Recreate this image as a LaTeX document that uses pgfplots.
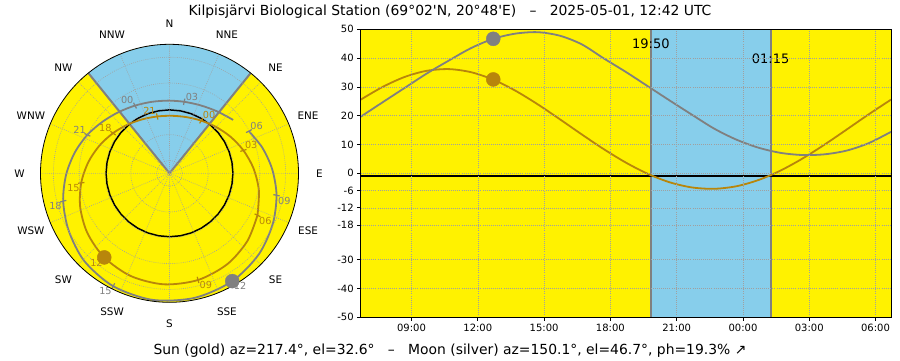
\documentclass[border=0pt]{standalone}
\usepackage{fontspec}
\setmainfont{DejaVu Sans}
\usepackage{pgfplots}
\pgfplotsset{compat=1.18}
\usepgfplotslibrary{polar}
\definecolor{sungold}{HTML}{B8860B}
\definecolor{moongray}{HTML}{808080}
\definecolor{nightblue}{HTML}{87CEEB}
\definecolor{gridgray}{HTML}{A0A0A0}
\newcommand{\tl}{\fontsize{9.7}{11}\selectfont}
\begin{document}
\begin{tikzpicture}[x=1pt,y=1pt]
\useasboundingbox (0,0) rectangle (900,360);
\node[font=\fontsize{13.9}{16}\selectfont, anchor=base] at (450,344.5) {Kilpisjärvi Biological Station (69°02\textquotesingle N, 20°48\textquotesingle E)\ \ \ –\ \ \ 2025-05-01, 12:42 UTC};
\node[font=\fontsize{13.9}{16}\selectfont, anchor=base] at (450,6) {Sun (gold) az=217.4°, el=32.6°\ \ \ –\ \ \ Moon (silver) az=150.1°, el=46.7°, ph=19.3\% ↗};

% ---------------- right: elevation vs time ----------------
\begin{axis}[
  at={(360.7pt,42.7pt)}, anchor=south west,
  scale only axis, width=530.3pt, height=288pt,
  xmin=6.7, xmax=30.7, ymin=-50, ymax=50,
  axis background/.style={fill=yellow},
  axis on top,
  xtick={9,12,15,18,21,24,27,30},
  xticklabels={09:00,12:00,15:00,18:00,21:00,00:00,03:00,06:00},
  ytick={-50,-40,-30,-18,-12,-6,0,10,20,30,40,50},
  yticklabels={-50,-40,-30,-18,-12,-6,0,10,20,30,40,50},
  tick label style={font=\fontsize{10}{12}\selectfont},
  tick align=outside, major tick length=3.5pt,
  xtick pos=left, ytick pos=left,
  grid=major,
  major grid style={gridgray, line width=0.6pt, dash pattern=on 0.8pt off 1.3pt},
  axis line style={black, line width=0.8pt},
  tick style={black, line width=0.8pt},
]
\addplot[draw=none, fill=nightblue] coordinates {(19.8333,-50) (25.25,-50) (25.25,50) (19.8333,50)} -- cycle;
\addplot[moongray, line width=2pt] coordinates {(19.8333,-50) (19.8333,50)};
\addplot[moongray, line width=2pt] coordinates {(25.25,-50) (25.25,50)};
\addplot[black, line width=2pt] coordinates {(6.7,-0.833) (30.7,-0.833)};
% sun elevation
\addplot[sungold, line width=1.8pt, smooth] coordinates {
(6.7,25.58) (7.7,30.02) (8.7,33.49) (9.7,35.61) (10.7,36.18) (11.7,35.10) (12.7,32.51)
(13.7,28.69) (14.7,24.01) (15.7,18.84) (16.7,13.53) (17.7,8.39) (18.7,3.72) (19.7,-0.21)
(20.7,-3.16) (21.7,-4.92) (22.7,-5.38) (23.7,-4.50) (24.7,-2.34) (25.7,0.95) (26.7,5.15)
(27.7,10.00) (28.7,15.23) (29.7,20.53) (30.7,25.58)};
% moon elevation
\addplot[moongray, line width=1.8pt, smooth] coordinates {
(6.7,19.65) (7.7,24.7) (8.7,29.7) (9.7,34.7) (10.7,39.2) (11.7,43.5) (12.7,46.7)
(13.7,48.5) (14.7,49.0) (15.7,47.8) (16.7,44.8) (17.7,39.9) (18.7,35.2) (19.7,30.2)
(20.7,25.2) (21.7,20.3) (22.7,15.5) (23.7,11.7) (24.7,8.9) (25.7,7.1) (26.7,6.35)
(27.7,6.6) (28.7,7.9) (29.7,10.5) (30.7,14.4)};
\addplot[only marks, mark=*, mark size=7pt, mark options={fill=moongray, draw=moongray}] coordinates {(12.7,46.7)};
\addplot[only marks, mark=*, mark size=7pt, mark options={fill=sungold, draw=sungold}] coordinates {(12.7,32.6)};
\node[font=\fontsize{13}{15}\selectfont] at (axis cs:19.8333,44.9) {19:50};
\node[font=\fontsize{13}{15}\selectfont] at (axis cs:25.25,39.9) {01:15};
\end{axis}

% ---------------- left: polar sky map ----------------
\begin{polaraxis}[
  at={(169.5pt,186.7pt)}, anchor=center,
  scale only axis, width=258pt, height=258pt,
  xmin=0, xmax=360, ymin=0, ymax=100,
  axis background/.style={fill=yellow},
  axis on top,
  xtick={0,22.5,...,337.5}, xticklabels={},
  ytick={10,30,50,70,90}, yticklabels={},
  grid=major,
  major grid style={gridgray, line width=0.6pt, dash pattern=on 0.8pt off 1.3pt},
  major tick length=0pt,
  separate axis lines,
  x axis line style={black, line width=0.8pt},
  y axis line style={draw=none},
  clip=false,
]
\addplot[draw=none, fill=nightblue] coordinates {(0,0) (129,100) (122.5,100) (116,100) (109.5,100) (103,100) (96.5,100) (90,100) (83.5,100) (77,100) (70.5,100) (64,100) (57.5,100) (51,100)} -- cycle;
\addplot[moongray, line width=2pt] coordinates {(129,100) (0,0) (51,100)};
% horizon
\addplot[black, line width=1.5pt] coordinates {(0,49.17) (10,49.17) (20,49.17) (30,49.17) (40,49.17) (50,49.17) (60,49.17) (70,49.17) (80,49.17) (90,49.17) (100,49.17) (110,49.17) (120,49.17) (130,49.17) (140,49.17) (150,49.17) (160,49.17) (170,49.17) (180,49.17) (190,49.17) (200,49.17) (210,49.17) (220,49.17) (230,49.17) (240,49.17) (250,49.17) (260,49.17) (270,49.17) (280,49.17) (290,49.17) (300,49.17) (310,49.17) (320,49.17) (330,49.17) (340,49.17) (350,49.17) (360,49.17)};
% sun path
\addplot[sungold, line width=1.8pt, smooth] coordinates {
(-25.5,75.58) (-41.1,80.02) (-57.6,83.49) (-75.0,85.61) (-92.9,86.18) (-110.6,85.10) (-127.8,82.51)
(-144.0,78.69) (-159.3,74.01) (-173.8,68.84) (-187.8,63.53) (-201.6,58.39) (-215.4,53.72) (-229.3,49.79)
(-243.4,46.84) (-257.8,45.08) (-272.3,44.62) (-286.8,45.50) (-301.1,47.66) (-315.2,50.95) (-329.1,55.15)
(-342.8,60.00) (-356.6,65.23) (-370.8,70.53) (-385.5,75.58)};
% moon path
\addplot[moongray, line width=1.8pt, smooth] coordinates {
(28.0,69.65) (15.3,74.7) (2.2,79.7) (-11.6,84.7) (-26.3,89.2) (-42.3,93.5) (-59.8,96.7)
(-78.5,98.5) (-97.7,99.0) (-116.5,97.8) (-134.2,94.8) (-150.4,89.9) (-165.3,85.2) (-179.1,80.2)
(-192.3,75.2) (-205.1,70.3) (-217.7,65.5) (-230.3,61.7) (-243.0,58.9) (-255.8,57.1) (-268.7,56.35)
(-281.6,56.6) (-294.5,57.9) (-307.3,60.5) (-320.0,64.4)};
% sun hour ticks
\addplot[sungold, line width=1.2pt] coordinates {(-25.5,73.1) (-25.5,78.1)} node[pos=0.5, anchor=north west, inner sep=1pt, font=\tl, text=sungold] {06};
\addplot[sungold, line width=1.2pt] coordinates {(-75.0,83.1) (-75.0,88.1)} node[pos=0.5, anchor=north west, inner sep=1pt, font=\tl, text=sungold] {09};
\addplot[sungold, line width=1.2pt] coordinates {(-127.8,80.0) (-127.8,85.0)} node[pos=0.5, anchor=north east, inner sep=1pt, font=\tl, text=sungold] {12};
\addplot[sungold, line width=1.2pt] coordinates {(-173.8,66.3) (-173.8,71.3)} node[pos=0.5, anchor=north east, inner sep=1pt, font=\tl, text=sungold] {15};
\addplot[sungold, line width=1.2pt] coordinates {(-215.4,51.2) (-215.4,56.2)} node[pos=0.5, anchor=south east, inner sep=1pt, font=\tl, text=sungold] {18};
\addplot[sungold, line width=1.2pt] coordinates {(-257.8,42.6) (-257.8,47.6)} node[pos=0.5, anchor=south east, inner sep=1pt, font=\tl, text=sungold] {21};
\addplot[sungold, line width=1.2pt] coordinates {(-301.1,45.2) (-301.1,50.2)} node[pos=0.5, anchor=south west, inner sep=1pt, font=\tl, text=sungold] {00};
\addplot[sungold, line width=1.2pt] coordinates {(-342.8,57.5) (-342.8,62.5)} node[pos=0.5, anchor=south west, inner sep=1pt, font=\tl, text=sungold] {03};
% moon hour ticks
\addplot[moongray, line width=1.2pt] coordinates {(28.0,67.2) (28.0,72.2)} node[pos=0.5, anchor=south west, inner sep=1pt, font=\tl, text=moongray] {06};
\addplot[moongray, line width=1.2pt] coordinates {(-11.6,82.2) (-11.6,87.2)} node[pos=0.5, anchor=north west, inner sep=1pt, font=\tl, text=moongray] {09};
\addplot[moongray, line width=1.2pt] coordinates {(-59.8,94.2) (-59.8,99.2)} node[pos=0.5, anchor=north west, inner sep=1pt, font=\tl, text=moongray] {12};
\addplot[moongray, line width=1.2pt] coordinates {(-116.5,95.3) (-116.5,100.3)} node[pos=0.5, anchor=north east, inner sep=1pt, font=\tl, text=moongray] {15};
\addplot[moongray, line width=1.2pt] coordinates {(-165.3,82.7) (-165.3,87.7)} node[pos=0.5, anchor=north east, inner sep=1pt, font=\tl, text=moongray] {18};
\addplot[moongray, line width=1.2pt] coordinates {(-205.1,67.8) (-205.1,72.8)} node[pos=0.5, anchor=south east, inner sep=1pt, font=\tl, text=moongray] {21};
\addplot[moongray, line width=1.2pt] coordinates {(-243.0,56.4) (-243.0,61.4)} node[pos=0.5, anchor=south east, inner sep=1pt, font=\tl, text=moongray] {00};
\addplot[moongray, line width=1.2pt] coordinates {(-281.6,54.1) (-281.6,59.1)} node[pos=0.5, anchor=south west, inner sep=1pt, font=\tl, text=moongray] {03};
% current positions
\addplot[only marks, mark=*, mark size=7pt, mark options={fill=sungold, draw=sungold}] coordinates {(-127.8,82.51)};
\addplot[only marks, mark=*, mark size=7pt, mark options={fill=moongray, draw=moongray}] coordinates {(-59.8,96.7)};
% compass labels
\begin{scope}[every node/.style={font=\fontsize{10.4}{12}\selectfont}]
\node at (axis cs:90,116.3) {N};
\node at (axis cs:67.5,116.3) {NNE};
\node at (axis cs:45,116.3) {NE};
\node at (axis cs:22.5,116.3) {ENE};
\node at (axis cs:0,116.3) {E};
\node at (axis cs:-22.5,116.3) {ESE};
\node at (axis cs:-45,116.3) {SE};
\node at (axis cs:-67.5,116.3) {SSE};
\node at (axis cs:-90,116.3) {S};
\node at (axis cs:-112.5,116.3) {SSW};
\node at (axis cs:-135,116.3) {SW};
\node at (axis cs:-157.5,116.3) {WSW};
\node at (axis cs:180,116.3) {W};
\node at (axis cs:157.5,116.3) {WNW};
\node at (axis cs:135,116.3) {NW};
\node at (axis cs:112.5,116.3) {NNW};
\end{scope}
\end{polaraxis}
\end{tikzpicture}
\end{document}
